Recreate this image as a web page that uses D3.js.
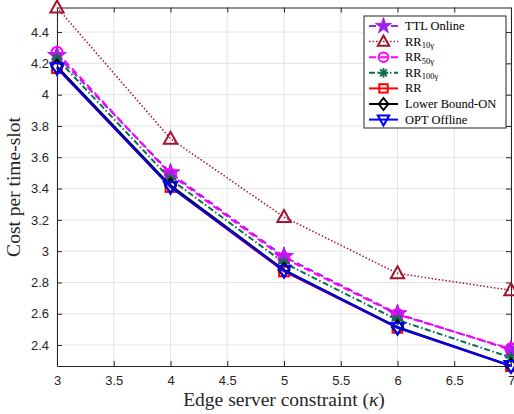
<!DOCTYPE html>
<html>
<head>
<meta charset="utf-8">
<script src="https://cdn.jsdelivr.net/npm/d3@7"></script>
<style>
  body { margin: 0; background: #fff; }
  svg { display: block; }
</style>
</head>
<body>
<svg id="chart" width="514" height="414"></svg>
<script>
const kappa = [3, 4, 5, 6, 7];
const ttlOnline = [4.25, 3.50, 2.965, 2.60, 2.37];
const rr10 = [4.557, 3.718, 3.218, 2.858, 2.75];
const rr50 = [4.27, 3.49, 2.955, 2.595, 2.375];
const rr100 = [4.23, 3.46, 2.925, 2.56, 2.32];
const rrPlain = [4.17, 3.41, 2.87, 2.51, 2.265];
const lowerBound = [4.18, 3.42, 2.88, 2.515, 2.268];
const optOffline = [4.17, 3.41, 2.875, 2.51, 2.266];

const xTicks = [3, 3.5, 4, 4.5, 5, 5.5, 6, 6.5, 7];
const yTicks = [2.4, 2.6, 2.8, 3, 3.2, 3.4, 3.6, 3.8, 4, 4.2, 4.4];

const series = [
  {name: "TTL Online", sub: null, values: ttlOnline, color: "#a020f0", dash: "7,4", width: 2, marker: "star"},
  {name: "RR", sub: "10γ", values: rr10, color: "#a2142f", dash: "1.5,2", width: 1.5, marker: "triangle"},
  {name: "RR", sub: "50γ", values: rr50, color: "#ff00ff", dash: "7,4", width: 2, marker: "circle"},
  {name: "RR", sub: "100γ", values: rr100, color: "#0b6e4f", dash: "6,2.5,1.5,2.5", width: 2, marker: "asterisk"},
  {name: "RR", sub: null, values: rrPlain, color: "#ff0000", dash: null, width: 2, marker: "square"},
  {name: "Lower Bound-ON", sub: null, values: lowerBound, color: "#000000", dash: null, width: 2, marker: "diamond"},
  {name: "OPT Offline", sub: null, values: optOffline, color: "#0000ff", dash: null, width: 2, marker: "triangleDown"}
];

const svg = d3.select("#chart");
const mLeft = 57, mRight = 511, mTop = 7.5, mBottom = 366;
const serif = "'Liberation Serif', 'Times New Roman', serif";

const x = d3.scaleLinear().domain([3, 7]).range([mLeft, mRight]);
const y = d3.scaleLinear().domain([2.266, 4.557]).range([mBottom, mTop]);

// grid
const grid = svg.append("g").attr("stroke", "#e3e3e3").attr("stroke-width", 1);
grid.selectAll(".gx").data(xTicks).join("line")
  .attr("x1", d => x(d)).attr("x2", d => x(d)).attr("y1", mTop).attr("y2", mBottom);
grid.selectAll(".gy").data(yTicks).join("line")
  .attr("x1", mLeft).attr("x2", mRight).attr("y1", d => y(d)).attr("y2", d => y(d));

// axes, ticks pointing inward on all four sides
const axisColor = "#262626";
const fmt = d => d3.format("~g")(d);
const axB = svg.append("g").attr("transform", `translate(0,${mBottom})`)
  .call(d3.axisBottom(x).tickValues(xTicks).tickFormat(fmt).tickSizeInner(-5).tickSizeOuter(0).tickPadding(10));
const axL = svg.append("g").attr("transform", `translate(${mLeft},0)`)
  .call(d3.axisLeft(y).tickValues(yTicks).tickFormat(fmt).tickSizeInner(-5).tickSizeOuter(0).tickPadding(8));
const axT = svg.append("g").attr("transform", `translate(0,${mTop})`)
  .call(d3.axisTop(x).tickValues(xTicks).tickFormat("").tickSizeInner(-5).tickSizeOuter(0));
const axR = svg.append("g").attr("transform", `translate(${mRight},0)`)
  .call(d3.axisRight(y).tickValues(yTicks).tickFormat("").tickSizeInner(-5).tickSizeOuter(0));
[axB, axL, axT, axR].forEach(a => {
  a.selectAll("path, line").attr("stroke", axisColor).attr("stroke-width", 1);
  a.selectAll("text").attr("fill", axisColor)
    .style("font-family", "'Liberation Sans', Arial, sans-serif").style("font-size", "13px");
});

function drawMarker(g, type, color, size) {
  const s = size;
  if (type === "star") {
    g.append("path").attr("d", d3.symbol(d3.symbolStar, s * s * 2.2)())
      .attr("fill", color).attr("stroke", color).attr("stroke-width", 1);
  } else if (type === "triangle") {
    g.append("path").attr("d", `M0,${-s}L${s * 0.95},${s * 0.7}L${-s * 0.95},${s * 0.7}Z`)
      .attr("fill", "none").attr("stroke", color).attr("stroke-width", 2);
  } else if (type === "triangleDown") {
    g.append("path").attr("d", `M0,${s}L${s * 0.95},${-s * 0.7}L${-s * 0.95},${-s * 0.7}Z`)
      .attr("fill", "none").attr("stroke", color).attr("stroke-width", 2);
  } else if (type === "circle") {
    g.append("circle").attr("r", s * 0.8)
      .attr("fill", "none").attr("stroke", color).attr("stroke-width", 2);
  } else if (type === "square") {
    g.append("rect").attr("x", -s * 0.7).attr("y", -s * 0.7).attr("width", s * 1.4).attr("height", s * 1.4)
      .attr("fill", "none").attr("stroke", color).attr("stroke-width", 2);
  } else if (type === "diamond") {
    g.append("path").attr("d", `M0,${-s}L${s * 0.8},0L0,${s}L${-s * 0.8},0Z`)
      .attr("fill", "none").attr("stroke", color).attr("stroke-width", 2);
  } else if (type === "asterisk") {
    const r = s * 0.8;
    for (let a = 0; a < 4; a++) {
      const t = a * Math.PI / 4;
      g.append("line").attr("x1", -r * Math.cos(t)).attr("y1", -r * Math.sin(t))
        .attr("x2", r * Math.cos(t)).attr("y2", r * Math.sin(t))
        .attr("stroke", color).attr("stroke-width", 2);
    }
  }
}

// lines + markers
const line = d3.line().x((d, i) => x(kappa[i])).y(d => y(d));
const plot = svg.append("g");
series.forEach(s => {
  plot.append("path").datum(s.values)
    .attr("d", line)
    .attr("fill", "none")
    .attr("stroke", s.color)
    .attr("stroke-width", s.width)
    .attr("stroke-dasharray", s.dash);
  s.values.forEach((v, i) => {
    const g = plot.append("g").attr("transform", `translate(${x(kappa[i])},${y(v)})`);
    drawMarker(g, s.marker, s.color, 7);
  });
});

// legend
const lg = svg.append("g").attr("transform", "translate(364,16)");
lg.append("rect").attr("width", 142).attr("height", 112)
  .attr("fill", "#fff").attr("stroke", axisColor).attr("stroke-width", 1);
series.forEach((s, i) => {
  const cy = 10 + i * 15.6;
  lg.append("line").attr("x1", 5).attr("x2", 34).attr("y1", cy).attr("y2", cy)
    .attr("stroke", s.color).attr("stroke-width", s.width)
    .attr("stroke-dasharray", s.dash);
  const m = lg.append("g").attr("transform", `translate(19.5,${cy})`);
  drawMarker(m, s.marker, s.color, 6);
  const t = lg.append("text").attr("x", 41).attr("y", cy + 4)
    .style("font-family", serif)
    .style("font-size", "12.5px").attr("fill", "#000");
  t.append("tspan").text(s.name);
  if (s.sub) {
    t.append("tspan").attr("dy", 2.5).style("font-size", "8.5px").text(s.sub);
  }
});

// axis labels
const xl = svg.append("text")
  .attr("x", 284).attr("y", 406)
  .attr("text-anchor", "middle")
  .style("font-family", serif)
  .style("font-size", "19.5px").attr("fill", axisColor);
xl.append("tspan").text("Edge server constraint (");
xl.append("tspan").style("font-style", "italic").text("κ");
xl.append("tspan").text(")");

svg.append("text")
  .attr("transform", `translate(20,187) rotate(-90)`)
  .attr("text-anchor", "middle")
  .style("font-family", serif)
  .style("font-size", "19.5px").attr("fill", axisColor)
  .text("Cost per time-slot");
</script>
</body>
</html>
